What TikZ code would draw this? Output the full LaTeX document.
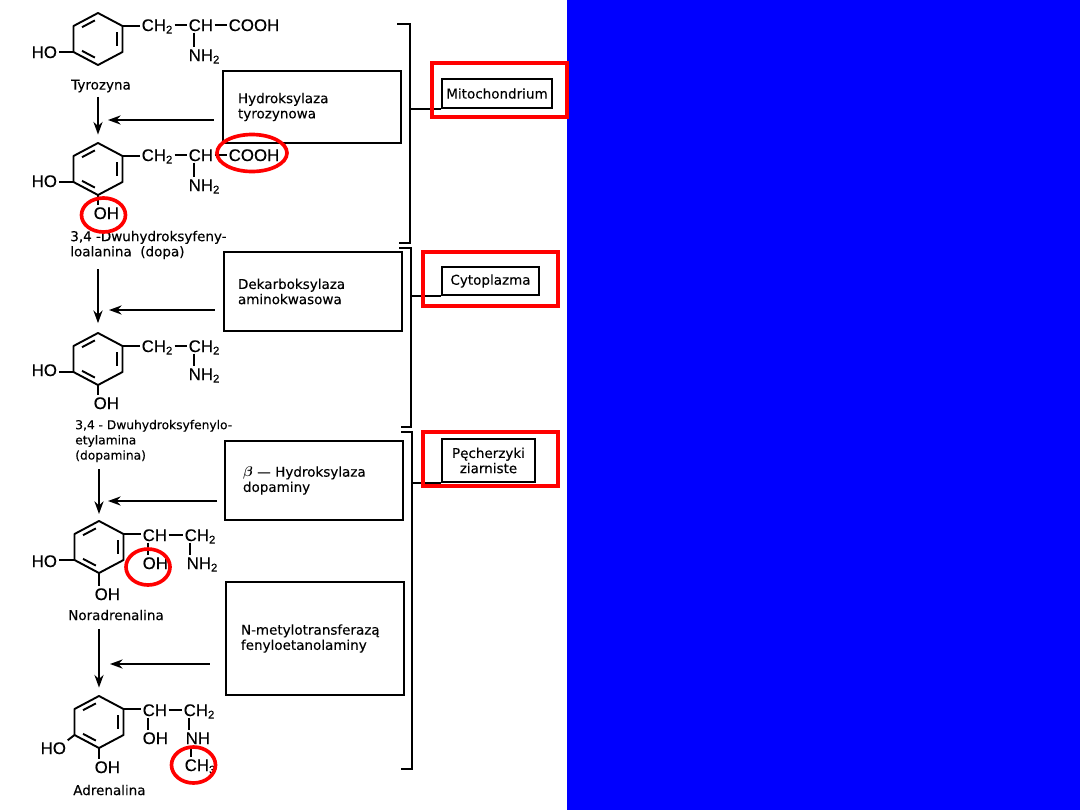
\documentclass[tikz,border=0pt]{standalone}
\usepackage{amssymb, amsmath}
\usepackage{fontspec}
\setmainfont{Liberation Sans}
\newfontfamily\atomfont[FakeBold=0.3]{Liberation Sans}
\newfontfamily\namefont[FakeBold=0.2]{DejaVu Sans}
\usepackage{tikz}
\usetikzlibrary{arrows.meta,calc,shapes.geometric}
\definecolor{markred}{RGB}{255,0,0}
\definecolor{panelblue}{RGB}{0,0,255}
\tikzstyle{bond} = [line width=1.35pt, draw]
\tikzstyle{atom} = [anchor=west, inner sep=1pt, text height=8.6pt, text depth=0pt,
                 font=\atomfont\fontsize{12}{12}\selectfont]
\tikzstyle{caption} = [anchor=west, inner sep=0pt, align=left,
                 font=\namefont\fontsize{9.6}{10.8}\selectfont]
\tikzstyle{enzyme} = [rectangle, draw, line width=1.35pt, inner ysep=0pt, align=left,
                 font=\namefont\fontsize{9.6}{10.8}\selectfont]
\tikzstyle{organelle} = [rectangle, draw, line width=1.35pt, inner sep=0pt, align=center,
                 font=\namefont\fontsize{9.6}{10.8}\selectfont]
\tikzstyle{react} = [line width=1.35pt, -{Stealth[length=9pt,width=6.5pt]}]
\tikzstyle{redbox} = [rectangle, draw=markred, line width=2.6pt, inner sep=0pt]
\tikzstyle{redring} = [ellipse, draw=markred, line width=2.6pt, inner sep=0pt]
% ring with vertices #1-1 .. #1-6, clockwise from the top
\newcommand{\benzene}[3]{
	\coordinate (#1-c) at (#2,#3);
	\foreach \n/\dx/\dy in {1/0/-26, 2/24.5/-13, 3/24.5/13, 4/0/26, 5/-24.5/13, 6/-24.5/-13}
		\coordinate (#1-\n) at ($(#1-c)+(\dx,\dy)$);
	\draw [bond, line join=round] (#1-1) -- (#1-2) -- (#1-3) -- (#1-4) -- (#1-5) -- (#1-6) -- cycle;
	\foreach \a/\b in {6/1, 2/3, 4/5}
		\draw [bond, shorten <=2.5pt, shorten >=2.5pt] ($(#1-c)!.78!(#1-\a)$) -- ($(#1-c)!.78!(#1-\b)$);
}
% vertical bond under the first letter of #1
\newcommand{\downbond}[2]{
	\draw [bond] ([xshift=5pt]#1.south west) -- ([xshift=5pt]#1.south west |- #2.north);
}
\begin{document}
\begin{tikzpicture}[x=0.025cm,y=-0.025cm]
\useasboundingbox (0,0) rectangle (1080,810);
\fill [panelblue] (567,0) rectangle (1080,810);

%molecules
\benzene{tyr}{98}{39}
\benzene{dopa}{98}{169}
\benzene{dpm}{98}{359}
\benzene{nor}{99}{547}
\benzene{adr}{99}{722}

\foreach \name/\x/\y/\txt in {tyrho/30/52/HO, tyrcha/140/25/CH\textsubscript{2}, tyrch/187/25/CH,
		tyrcooh/227/25/COOH, tyrnh/187/55/NH\textsubscript{2},
		dopaho/30/181/HO, dopaoh/92/213/OH, dopacha/140/155/CH\textsubscript{2}, dopach/187/155/CH,
		dopacooh/227/155/COOH, dopanh/187/185/NH\textsubscript{2},
		dpmho/30/370/HO, dpmoh/92/403/OH, dpmcha/140/346/CH\textsubscript{2},
		dpmchb/187/346/CH\textsubscript{2}, dpmnh/187/374/NH\textsubscript{2},
		norho/30/561/HO, noroh/93/594/OH, norch/141/535/CH, norcha/183/535/CH\textsubscript{2},
		norohb/141/563/OH, nornh/185/563/NH\textsubscript{2},
		adrho/39/748/HO, adroh/93/767/OH, adrch/141/710/CH, adrcha/182/710/CH\textsubscript{2},
		adrohb/141/738/OH, adrnh/184/738/NH, adrchc/183/765/CH\textsubscript{3}}
	\node [atom] (\name) at (\x,\y) {\txt};

\path [bond] (tyr-5) -- (tyr-5 -| tyrho.east);
\path [bond] (tyr-2) -- (tyr-2 -| tyrcha.west);
\path [bond] (tyrcha.east) -- (tyrch.west);
\path [bond] (tyrch.east) -- (tyrcooh.west);
\downbond{tyrch}{tyrnh}

\path [bond] (dopa-5) -- (dopa-5 -| dopaho.east);
\path [bond] (dopa-4) -- (dopa-4 |- dopaoh.north);
\path [bond] (dopa-2) -- (dopa-2 -| dopacha.west);
\path [bond] (dopacha.east) -- (dopach.west);
\path [bond] (dopach.east) -- (dopacooh.west);
\downbond{dopach}{dopanh}

\path [bond] (dpm-5) -- (dpm-5 -| dpmho.east);
\path [bond] (dpm-4) -- (dpm-4 |- dpmoh.north);
\path [bond] (dpm-2) -- (dpm-2 -| dpmcha.west);
\path [bond] (dpmcha.east) -- (dpmchb.west);
\downbond{dpmchb}{dpmnh}

\path [bond] (nor-5) -- (nor-5 -| norho.east);
\path [bond] (nor-4) -- (nor-4 |- noroh.north);
\path [bond] (nor-2) -- (nor-2 -| norch.west);
\path [bond] (norch.east) -- (norcha.west);
\downbond{norch}{norohb}
\downbond{norcha}{nornh}

\path [bond] (adr-5) -- (adrho.north east);
\path [bond] (adr-4) -- (adr-4 |- adroh.north);
\path [bond] (adr-2) -- (adr-2 -| adrch.west);
\path [bond] (adrch.east) -- (adrcha.west);
\downbond{adrch}{adrohb}
\downbond{adrcha}{adrnh}
\downbond{adrnh}{adrchc}

%names
\node [caption] (tyrname) at (71,86) {Tyrozyna};
\node [caption] (dopaname) at (70,245) {3,4 -Dwuhydroksyfeny-\\loalanina\ \ (dopa)};
\node [caption, font=\namefont\fontsize{8.7}{10.8}\selectfont] (dpmname) at (75,441) {3,4 - Dwuhydroksyfenylo-\\etylamina\\(dopamina)};
\node [caption] (norname) at (68,615) {Noradrenalina};
\node [caption] (adrname) at (73,790) {Adrenalina};

%enzymes
\foreach \name/\x/\y/\w/\h/\sep/\txt in {hydro/312/107/178/72/15/{Hydroksylaza\\tyrozynowa},
		dekarb/313/291.5/178/79/14/{Dekarboksylaza\\aminokwasowa},
		betah/314/480.5/178/79/18/{$\boldsymbol{\beta}$ — Hydroksylaza\\dopaminy},
		nmet/315/638.5/178/113/15/{N-metylotransferazą\\fenyloetanolaminy}}
	\node [enzyme, minimum width=\w*0.025cm, minimum height=\h*0.025cm,
		inner xsep=\sep*0.025cm, text width=(\w-2*\sep)*0.025cm] (\name) at (\x,\y) {\txt};

%arrows
\coordinate (tip1) at (108,120);
\coordinate (tip2) at (109,310);
\coordinate (tip3) at (108,501);
\coordinate (tip4) at (110,664);
\foreach \name/\tip/\gap in {hydro/tip1/6, dekarb/tip2/6, betah/tip3/5, nmet/tip4/11}
	\draw [react, shorten <=\gap] (\name.west |- \tip) -- (\tip);

\draw [react, shorten <=3, shorten >=6] (dopa-1 |- tyrname.south) -- (dopa-1);
\draw [react, shorten <=7, shorten >=7] (dpm-1 |- dopaname.south) -- (dpm-1);
\draw [react, shorten <=5, shorten >=5] (nor-1 |- dpmname.south) -- (nor-1);
\draw [react, shorten <=6, shorten >=6] (adr-1 |- norname.south) -- (adr-1);

%brackets
\coordinate (bra) at (397,24);
\coordinate (brb) at (410,24);
\coordinate (brc) at (410,243);
\coordinate (brd) at (399,243);
\coordinate (bre) at (399,248);
\coordinate (brf) at (411,248);
\coordinate (brg) at (411,427);
\coordinate (brh) at (401,427);
\coordinate (bri) at (401,432);
\coordinate (brj) at (412,432);
\coordinate (brk) at (412,769);
\coordinate (brl) at (401,769);
\draw [bond] (bra) -- (brb) -- (brc) -- (brd);
\draw [bond] (bre) -- (brf) -- (brg) -- (brh);
\draw [bond] (bri) -- (brj) -- (brk) -- (brl);

%compartments
\node [organelle, minimum width=110*0.025cm, minimum height=29*0.025cm] (mito) at (497,93.5) {Mitochondrium};
\node [organelle, minimum width=97*0.025cm, minimum height=28*0.025cm] (cyto) at (490.5,281) {Cytoplazma};
\node [organelle, minimum width=93*0.025cm, minimum height=43*0.025cm] (pech) at (488.5,460.5) {Pęcherzyki\\ziarniste};
\path [bond] (mito.south west) -- (mito.south west -| brb);
\path [bond] (cyto.south west) -- (cyto.south west -| brf);
\path [bond] (pech.south west) -- (pech.south west -| brj);

%red marks
\node [redbox, minimum width=135*0.025cm, minimum height=54*0.025cm] (mitomark) at (499.5,90) {};
\node [redbox, minimum width=135*0.025cm, minimum height=54*0.025cm] (cytomark) at (490.5,279) {};
\node [redbox, minimum width=135*0.025cm, minimum height=54*0.025cm] (pechmark) at (490.5,459) {};
\foreach \name/\x/\y/\w/\h in {coohmark/252/153/70/37, ohmarka/103.5/215/44/34,
		ohmarkb/148/567/44/36, chmark/193.5/765/44/36}
	\node [redring, minimum width=\w*0.025cm, minimum height=\h*0.025cm] (\name) at (\x,\y) {};

\end{tikzpicture}
\end{document}
